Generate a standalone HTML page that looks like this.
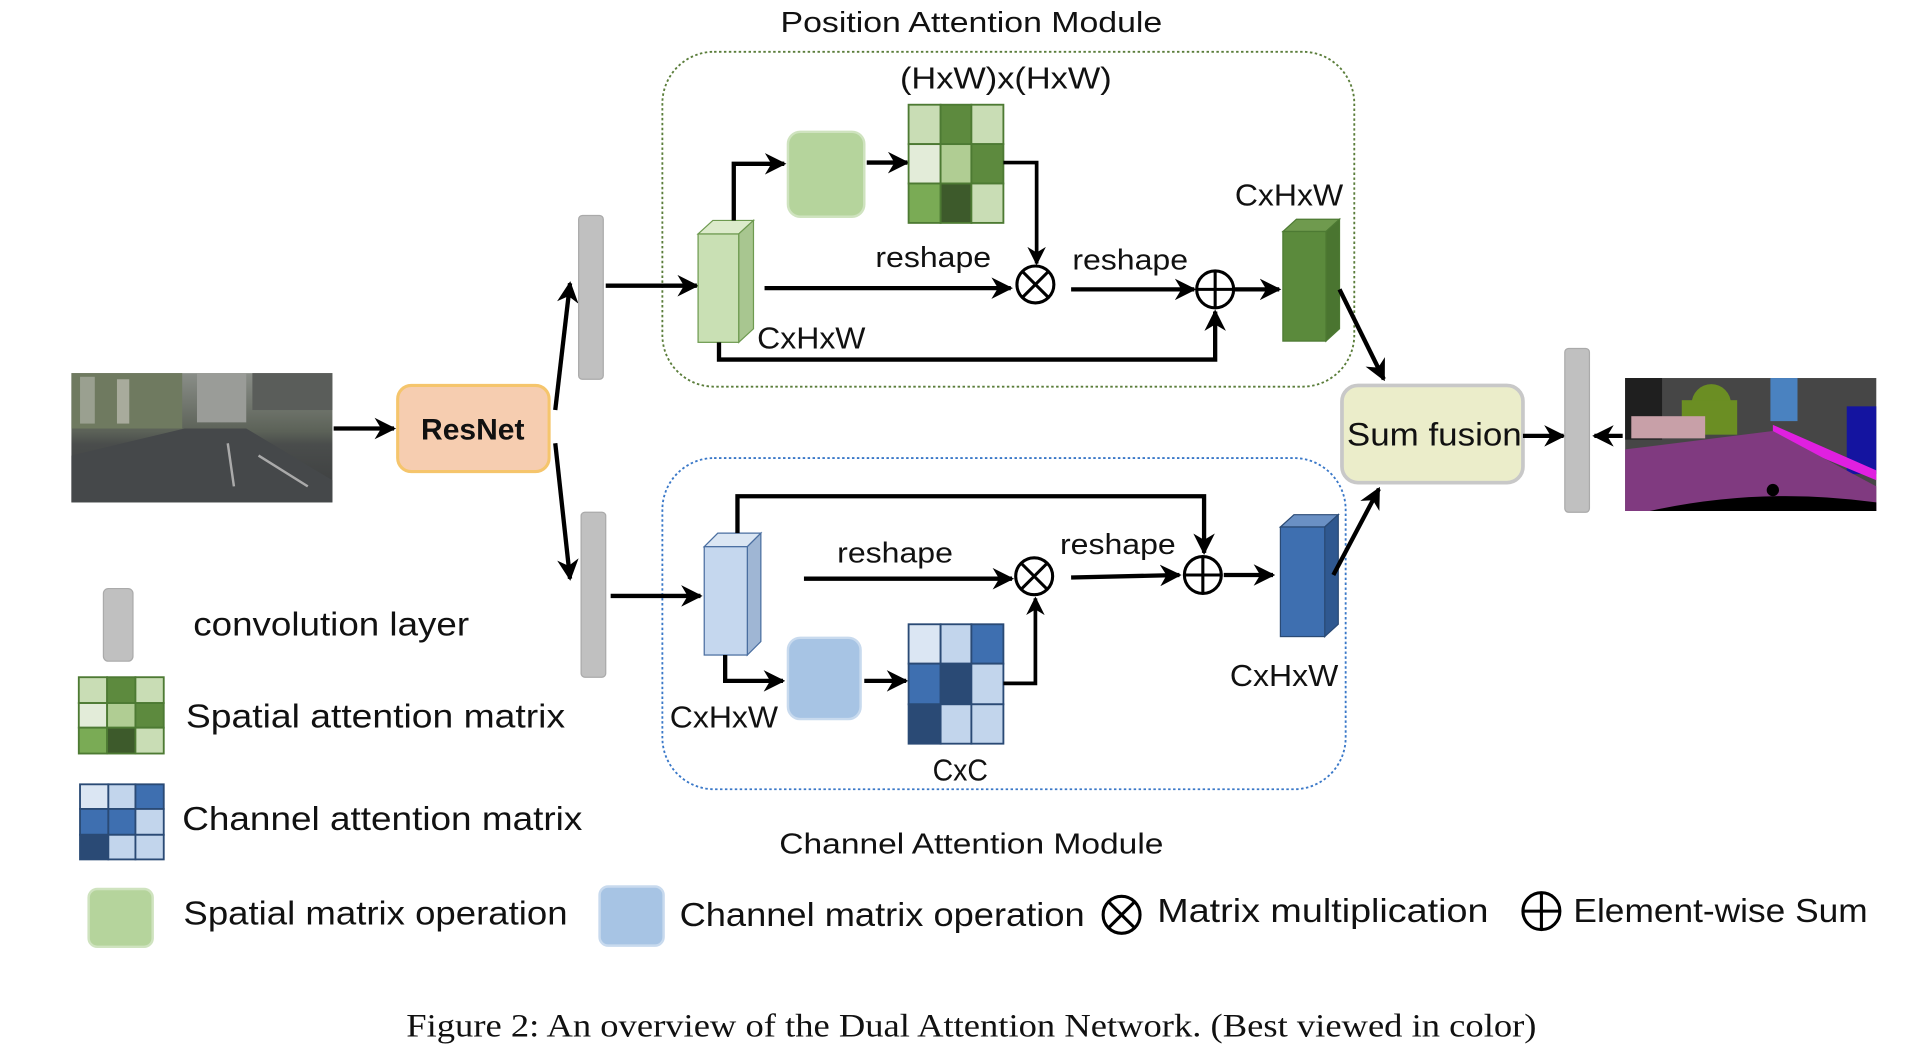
<!DOCTYPE html>
<html><head><meta charset="utf-8"><style>
html,body{margin:0;padding:0;background:#fff;}
svg{display:block;}
text{font-family:"Liberation Sans",sans-serif;fill:#111;}
</style></head><body>
<svg width="1928" height="1054" viewBox="0 0 1566 856" xmlns="http://www.w3.org/2000/svg">
<defs>
<marker id="ah" viewBox="0 0 10 10" refX="9" refY="5" markerWidth="5" markerHeight="5" orient="auto-start-reverse">
<path d="M0,0 L10,5 L0,10 L3,5 z" fill="#000"/></marker>
<linearGradient id="sky" x1="0" y1="0" x2="0" y2="1">
<stop offset="0" stop-color="#8a8e88"/><stop offset="0.45" stop-color="#5c6258"/><stop offset="0.55" stop-color="#4a4d4c"/><stop offset="1" stop-color="#3a3c3d"/></linearGradient>
</defs>

<text x="789" y="26" font-size="23" text-anchor="middle" textLength="310" lengthAdjust="spacingAndGlyphs">Position Attention Module</text>
<rect x="538" y="42" width="562" height="272" rx="42" fill="none" stroke="#5a7d3a" stroke-width="1.5" stroke-dasharray="2,2"/>
<rect x="538" y="372" width="555" height="269" rx="42" fill="none" stroke="#3a78c8" stroke-width="1.5" stroke-dasharray="2,2"/>

<!-- street photo -->
<rect x="58" y="303" width="212" height="105" fill="url(#sky)"/>
<rect x="58" y="303" width="90" height="45" fill="#6f7a60"/>
<rect x="65" y="306" width="12" height="38" fill="#9aa090"/>
<rect x="95" y="308" width="10" height="36" fill="#a8ab9c"/>
<rect x="160" y="303" width="40" height="40" fill="#9a9c98"/>
<rect x="205" y="303" width="65" height="30" fill="#5a5d5a"/>
<polygon points="58,408 58,370 150,348 200,348 270,390 270,408" fill="#45484a"/>
<line x1="185" y1="360" x2="190" y2="395" stroke="#aaa" stroke-width="2"/>
<line x1="210" y1="370" x2="250" y2="395" stroke="#aaa" stroke-width="2"/>

<line x1="271" y1="348" x2="320" y2="348" stroke="#000" stroke-width="3.5" marker-end="url(#ah)"/>
<rect x="323" y="313" width="123" height="70" rx="11" fill="#f6cdb0" stroke="#f5c56c" stroke-width="2.5"/>
<text x="384" y="357" font-size="24" font-weight="bold" text-anchor="middle" textLength="84" lengthAdjust="spacingAndGlyphs">ResNet</text>
<line x1="451" y1="333" x2="463" y2="230" stroke="#000" stroke-width="3.5" marker-end="url(#ah)"/>
<line x1="451" y1="360" x2="463" y2="470" stroke="#000" stroke-width="3.5" marker-end="url(#ah)"/>

<rect x="470" y="175" width="20" height="133" rx="3" fill="#c0c0c0" stroke="#aaa"/>
<rect x="472" y="416" width="20" height="134" rx="3" fill="#c0c0c0" stroke="#aaa"/>

<!-- position module -->
<line x1="492" y1="232" x2="566" y2="232" stroke="#000" stroke-width="3.5" marker-end="url(#ah)"/>
<polygon points="567,190 579,179 612,179 600,190" fill="#dcebcb" stroke="#6e9a50"/>
<polygon points="600,190 612,179 612,267 600,278" fill="#a8c690" stroke="#6e9a50"/>
<rect x="567" y="190" width="33" height="88" fill="#c9e0b4" stroke="#6e9a50"/>
<polyline points="596,179 596,133 637,133" fill="none" stroke="#000" stroke-width="3.5" marker-end="url(#ah)"/>
<rect x="640" y="107" width="62" height="69" rx="10" fill="#b5d49c" stroke="#cfe3bf" stroke-width="2"/>
<line x1="704" y1="132" x2="737" y2="132" stroke="#000" stroke-width="3.5" marker-end="url(#ah)"/>
<g stroke="#4d7a33" stroke-width="1.5">
<rect x="738" y="85" width="26" height="32" fill="#c9ddb5"/><rect x="764" y="85" width="25" height="32" fill="#5d8a3e"/><rect x="789" y="85" width="26" height="32" fill="#c9ddb5"/>
<rect x="738" y="117" width="26" height="32" fill="#e3ecd9"/><rect x="764" y="117" width="25" height="32" fill="#b0cd93"/><rect x="789" y="117" width="26" height="32" fill="#5d8a3e"/>
<rect x="738" y="149" width="26" height="32" fill="#7aab55"/><rect x="764" y="149" width="25" height="32" fill="#3d5a2b"/><rect x="789" y="149" width="26" height="32" fill="#c9ddb5"/>
</g>
<text x="817" y="72" font-size="25" text-anchor="middle" textLength="172" lengthAdjust="spacingAndGlyphs">(HxW)x(HxW)</text>
<polyline points="815,132 842,132 842,214" fill="none" stroke="#000" stroke-width="3" marker-end="url(#ah)"/>
<text x="758" y="217" font-size="23" text-anchor="middle" textLength="94" lengthAdjust="spacingAndGlyphs">reshape</text>
<line x1="621" y1="234" x2="821" y2="234" stroke="#000" stroke-width="3.5" marker-end="url(#ah)"/>
<g fill="none" stroke="#000" stroke-width="2.5">
<circle cx="841" cy="231" r="15"/><line x1="830" y1="220" x2="852" y2="242"/><line x1="852" y1="220" x2="830" y2="242"/>
<circle cx="987" cy="235" r="15"/><line x1="972" y1="235" x2="1002" y2="235"/><line x1="987" y1="220" x2="987" y2="250"/>
</g>
<text x="918" y="219" font-size="23" text-anchor="middle" textLength="94" lengthAdjust="spacingAndGlyphs">reshape</text>
<line x1="870" y1="235" x2="970" y2="235" stroke="#000" stroke-width="3.5" marker-end="url(#ah)"/>
<line x1="1003" y1="235" x2="1039" y2="235" stroke="#000" stroke-width="3.5" marker-end="url(#ah)"/>
<polygon points="1042,188 1053,178 1088,178 1077,188" fill="#6f9a4e" stroke="#4d7a33"/>
<polygon points="1077,188 1088,178 1088,267 1077,277" fill="#4a7530" stroke="#4d7a33"/>
<rect x="1042" y="188" width="35" height="89" fill="#5b8a3c" stroke="#4d7a33"/>
<text x="1047" y="167" font-size="25" text-anchor="middle" textLength="88" lengthAdjust="spacingAndGlyphs">CxHxW</text>
<text x="659" y="283" font-size="25" text-anchor="middle" textLength="88" lengthAdjust="spacingAndGlyphs">CxHxW</text>
<polyline points="584,278 584,292 987,292 987,253" fill="none" stroke="#000" stroke-width="3.5" marker-end="url(#ah)"/>
<line x1="1088" y1="235" x2="1124" y2="308" stroke="#000" stroke-width="3.5" marker-end="url(#ah)"/>

<!-- sum fusion -->
<rect x="1090" y="313" width="147" height="79" rx="13" fill="#ebedca" stroke="#c8c8c8" stroke-width="3"/>
<text x="1165" y="362" font-size="26" text-anchor="middle" textLength="142" lengthAdjust="spacingAndGlyphs">Sum fusion</text>
<line x1="1237" y1="354" x2="1270" y2="354" stroke="#000" stroke-width="3.5" marker-end="url(#ah)"/>
<rect x="1271" y="283" width="20" height="133" rx="3" fill="#c0c0c0" stroke="#aaa"/>
<line x1="1318" y1="354" x2="1295" y2="354" stroke="#000" stroke-width="3.5" marker-end="url(#ah)"/>
<!-- segmentation -->
<rect x="1320" y="307" width="204" height="108" fill="#464646"/>
<rect x="1320" y="307" width="30" height="50" fill="#1f1f1f"/>
<rect x="1438" y="307" width="22" height="35" fill="#4a82c0"/>
<circle cx="1390" cy="328" r="16" fill="#6b8e23"/><rect x="1366" y="325" width="45" height="28" fill="#6b8e23"/>
<rect x="1325" y="338" width="60" height="18" fill="#c8a0a8"/>
<rect x="1500" y="330" width="24" height="55" fill="#1414a0"/>
<polygon points="1440,345 1524,382 1524,390 1440,355" fill="#e020e0"/>
<polygon points="1320,365 1440,350 1524,395 1524,415 1320,415" fill="#803a80"/>
<path d="M1340,415 Q1430,395 1524,408 L1524,415 Z" fill="#000"/>
<circle cx="1440" cy="398" r="5" fill="#000"/>

<!-- channel module -->
<line x1="496" y1="484" x2="569" y2="484" stroke="#000" stroke-width="3.5" marker-end="url(#ah)"/>
<polygon points="572,444 583,433 618,433 607,444" fill="#dbe6f3" stroke="#4a6ea0"/>
<polygon points="607,444 618,433 618,521 607,532" fill="#9fb6d4" stroke="#4a6ea0"/>
<rect x="572" y="444" width="35" height="88" fill="#c5d7ee" stroke="#4a6ea0"/>
<polyline points="599,433 599,403 978,403 978,449" fill="none" stroke="#000" stroke-width="3.5" marker-end="url(#ah)"/>
<text x="727" y="457" font-size="23" text-anchor="middle" textLength="94" lengthAdjust="spacingAndGlyphs">reshape</text>
<line x1="653" y1="470" x2="822" y2="470" stroke="#000" stroke-width="3.5" marker-end="url(#ah)"/>
<g fill="none" stroke="#000" stroke-width="2.5">
<circle cx="840" cy="468" r="15"/><line x1="829" y1="457" x2="851" y2="479"/><line x1="851" y1="457" x2="829" y2="479"/>
<circle cx="977" cy="467" r="15"/><line x1="962" y1="467" x2="992" y2="467"/><line x1="977" y1="452" x2="977" y2="482"/>
</g>
<text x="908" y="450" font-size="23" text-anchor="middle" textLength="94" lengthAdjust="spacingAndGlyphs">reshape</text>
<line x1="870" y1="469" x2="958" y2="467" stroke="#000" stroke-width="3.5" marker-end="url(#ah)"/>
<line x1="994" y1="467" x2="1034" y2="467" stroke="#000" stroke-width="3.5" marker-end="url(#ah)"/>
<polygon points="1040,428 1051,418 1087,418 1076,428" fill="#6a90c4" stroke="#2a4a75"/>
<polygon points="1076,428 1087,418 1087,507 1076,517" fill="#2f5890" stroke="#2a4a75"/>
<rect x="1040" y="428" width="36" height="89" fill="#3e6fb0" stroke="#2a4a75"/>
<line x1="1083" y1="467" x2="1120" y2="397" stroke="#000" stroke-width="3.5" marker-end="url(#ah)"/>
<text x="1043" y="557" font-size="25" text-anchor="middle" textLength="88" lengthAdjust="spacingAndGlyphs">CxHxW</text>
<polyline points="589,532 589,553 636,553" fill="none" stroke="#000" stroke-width="3.5" marker-end="url(#ah)"/>
<rect x="640" y="518" width="59" height="66" rx="10" fill="#a7c4e4" stroke="#c8daee" stroke-width="2"/>
<line x1="702" y1="553" x2="736" y2="553" stroke="#000" stroke-width="3.5" marker-end="url(#ah)"/>
<g stroke="#2a4a75" stroke-width="1.5">
<rect x="738" y="507" width="26" height="32" fill="#dbe6f3"/><rect x="764" y="507" width="25" height="32" fill="#c2d5ec"/><rect x="789" y="507" width="26" height="32" fill="#3e6fb0"/>
<rect x="738" y="539" width="26" height="33" fill="#3e6fb0"/><rect x="764" y="539" width="25" height="33" fill="#2a4a75"/><rect x="789" y="539" width="26" height="33" fill="#c2d5ec"/>
<rect x="738" y="572" width="26" height="32" fill="#2a4a75"/><rect x="764" y="572" width="25" height="32" fill="#c2d5ec"/><rect x="789" y="572" width="26" height="32" fill="#c2d5ec"/>
</g>
<polyline points="815,555 841,555 841,486" fill="none" stroke="#000" stroke-width="3" marker-end="url(#ah)"/>
<text x="588" y="591" font-size="25" text-anchor="middle" textLength="88" lengthAdjust="spacingAndGlyphs">CxHxW</text>
<text x="780" y="634" font-size="25" text-anchor="middle" textLength="45" lengthAdjust="spacingAndGlyphs">CxC</text>
<text x="789" y="693" font-size="23" text-anchor="middle" textLength="312" lengthAdjust="spacingAndGlyphs">Channel Attention Module</text>

<!-- legend -->
<rect x="84" y="478" width="24" height="59" rx="4" fill="#c0c0c0" stroke="#aaa"/>
<text x="157" y="516" font-size="27" textLength="224" lengthAdjust="spacingAndGlyphs">convolution layer</text>
<g stroke="#4d7a33" stroke-width="1.5">
<rect x="64" y="550" width="23" height="21" fill="#c9ddb5"/><rect x="87" y="550" width="23" height="21" fill="#5d8a3e"/><rect x="110" y="550" width="23" height="21" fill="#c9ddb5"/>
<rect x="64" y="571" width="23" height="20" fill="#e3ecd9"/><rect x="87" y="571" width="23" height="20" fill="#b0cd93"/><rect x="110" y="571" width="23" height="20" fill="#5d8a3e"/>
<rect x="64" y="591" width="23" height="21" fill="#7aab55"/><rect x="87" y="591" width="23" height="21" fill="#3d5a2b"/><rect x="110" y="591" width="23" height="21" fill="#c9ddb5"/>
</g>
<text x="151" y="591" font-size="27" textLength="308" lengthAdjust="spacingAndGlyphs">Spatial attention matrix</text>
<g stroke="#2a4a75" stroke-width="1.5">
<rect x="65" y="637" width="23" height="20" fill="#dbe6f3"/><rect x="88" y="637" width="22" height="20" fill="#c2d5ec"/><rect x="110" y="637" width="23" height="20" fill="#3e6fb0"/>
<rect x="65" y="657" width="23" height="21" fill="#3e6fb0"/><rect x="88" y="657" width="22" height="21" fill="#3e6fb0"/><rect x="110" y="657" width="23" height="21" fill="#c2d5ec"/>
<rect x="65" y="678" width="23" height="20" fill="#2a4a75"/><rect x="88" y="678" width="22" height="20" fill="#c2d5ec"/><rect x="110" y="678" width="23" height="20" fill="#c2d5ec"/>
</g>
<text x="148" y="674" font-size="27" textLength="325" lengthAdjust="spacingAndGlyphs">Channel attention matrix</text>
<rect x="72" y="722" width="52" height="47" rx="7" fill="#b5d49c" stroke="#cfe3bf" stroke-width="2"/>
<text x="149" y="751" font-size="27" textLength="312" lengthAdjust="spacingAndGlyphs">Spatial matrix operation</text>
<rect x="487" y="720" width="52" height="48" rx="7" fill="#a7c4e4" stroke="#c8daee" stroke-width="2"/>
<text x="552" y="752" font-size="27" textLength="329" lengthAdjust="spacingAndGlyphs">Channel matrix operation</text>
<g fill="none" stroke="#000" stroke-width="2.5">
<circle cx="911" cy="743" r="15"/><line x1="900" y1="732" x2="922" y2="754"/><line x1="922" y1="732" x2="900" y2="754"/>
<circle cx="1252" cy="740" r="15"/><line x1="1237" y1="740" x2="1267" y2="740"/><line x1="1252" y1="725" x2="1252" y2="755"/>
</g>
<text x="940" y="749" font-size="27" textLength="269" lengthAdjust="spacingAndGlyphs">Matrix multiplication</text>
<text x="1278" y="749" font-size="27" textLength="239" lengthAdjust="spacingAndGlyphs">Element-wise Sum</text>

<text x="789" y="842" font-size="27" text-anchor="middle" textLength="918" lengthAdjust="spacingAndGlyphs" style="font-family:'Liberation Serif',serif">Figure 2: An overview of the Dual Attention Network. (Best viewed in color)</text>
</svg>
</body></html>
